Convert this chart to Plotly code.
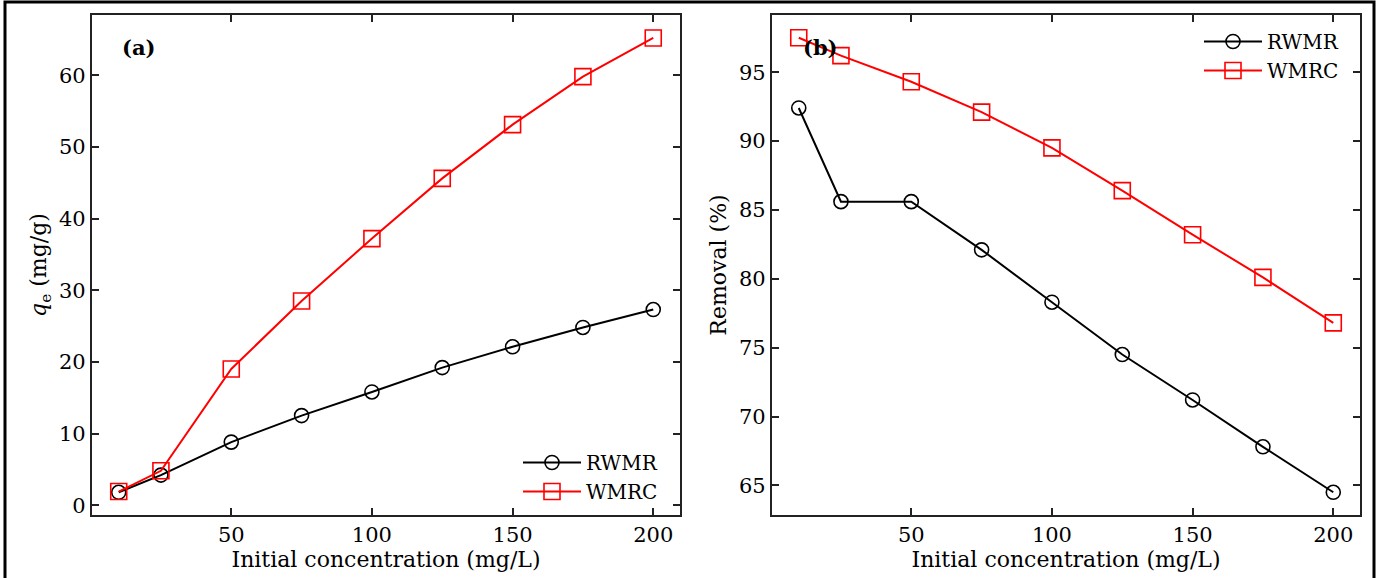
import plotly.graph_objects as go
from plotly.subplots import make_subplots

conc = [10, 25, 50, 75, 100, 125, 150, 175, 200]
qe_rwmr = [1.8, 4.2, 8.8, 12.5, 15.8, 19.2, 22.1, 24.8, 27.3]
qe_wmrc = [1.9, 4.8, 19.0, 28.5, 37.2, 45.6, 53.1, 59.8, 65.2]
rem_rwmr = [92.4, 85.6, 85.6, 82.1, 78.3, 74.5, 71.2, 67.8, 64.5]
rem_wmrc = [97.5, 96.2, 94.3, 92.1, 89.5, 86.4, 83.2, 80.1, 76.8]
series_names = ["RWMR", "WMRC"]

W, H = 1379, 578
ML, MR, MT, MB = 92, 19, 15, 63
PW = W - ML - MR
PH = H - MT - MB

def px_x(x):
    return (x - ML) / PW

def px_y(y):
    return (H - MB - y) / PH

fig = make_subplots(rows=1, cols=2, horizontal_spacing=0.0726)
font = "DejaVu Serif"

def add(series, col, legend):
    for name, ys, color, sym, size in [
        (series_names[0], series[0], "black", "circle-open", 14),
        (series_names[1], series[1], "red", "square-open", 16),
    ]:
        fig.add_trace(go.Scatter(
            x=conc, y=ys, mode="lines+markers", name=name,
            line=dict(color=color, width=2),
            marker=dict(symbol=sym, size=size, color=color, line=dict(width=1.6, color=color)),
            legend=legend, showlegend=True,
        ), row=1, col=col)

add((qe_rwmr, qe_wmrc), 1, "legend")
add((rem_rwmr, rem_wmrc), 2, "legend2")

axis_common = dict(
    showline=True, linecolor="#222222", linewidth=2.2, mirror="ticks",
    ticks="inside", ticklen=7, tickwidth=1.5, tickcolor="#222222",
    showgrid=False, zeroline=False,
    tickfont=dict(family=font, size=21, color="black"),
)
title_font = dict(family=font, size=22, color="black")
for c in (1, 2):
    fig.update_xaxes(range=[0.5, 209.5], tickvals=[50, 100, 150, 200],
                     title=dict(text="Initial concentration (mg/L)", font=title_font, standoff=0),
                     row=1, col=c, **axis_common)
fig.update_yaxes(range=[-1.37, 68.4], tickvals=[0, 10, 20, 30, 40, 50, 60],
                 title=dict(text="<i>q</i><sub>e</sub> (mg/g)", font=title_font, standoff=6),
                 row=1, col=1, **axis_common)
fig.update_yaxes(range=[62.85, 99.15], tickvals=[65, 70, 75, 80, 85, 90, 95],
                 title=dict(text="Removal (%)", font=title_font, standoff=6),
                 row=1, col=2, **axis_common)

fig.add_annotation(text="<b>(a)</b>", xref="paper", yref="paper", x=px_x(120), y=px_y(48),
                   xanchor="left", yanchor="middle", showarrow=False,
                   font=dict(family=font, size=21, color="black"))
fig.add_annotation(text="<b>(b)</b>", xref="paper", yref="paper", x=px_x(801), y=px_y(48),
                   xanchor="left", yanchor="middle", showarrow=False,
                   font=dict(family=font, size=21, color="black"))

fig.add_shape(type="rect", xref="paper", yref="paper",
              x0=px_x(5), x1=px_x(1374), y0=px_y(590), y1=px_y(2),
              line=dict(color="black", width=3), fillcolor="rgba(0,0,0,0)", layer="below")

leg_font = dict(family=font, size=20, color="black")
fig.update_layout(
    width=W, height=H,
    margin=dict(l=ML, r=MR, t=MT, b=MB),
    plot_bgcolor="white", paper_bgcolor="white",
    font=dict(family=font, color="black"),
    legend=dict(x=px_x(518), y=px_y(443), xanchor="left", yanchor="top",
                bgcolor="rgba(0,0,0,0)", font=leg_font, tracegroupgap=0, itemwidth=58),
    legend2=dict(x=px_x(1199), y=px_y(22), xanchor="left", yanchor="top",
                 bgcolor="rgba(0,0,0,0)", font=leg_font, tracegroupgap=0, itemwidth=58),
)

fig.write_html("out.html", config={"displayModeBar": False},
               post_script="document.body.style.margin='0px';")
